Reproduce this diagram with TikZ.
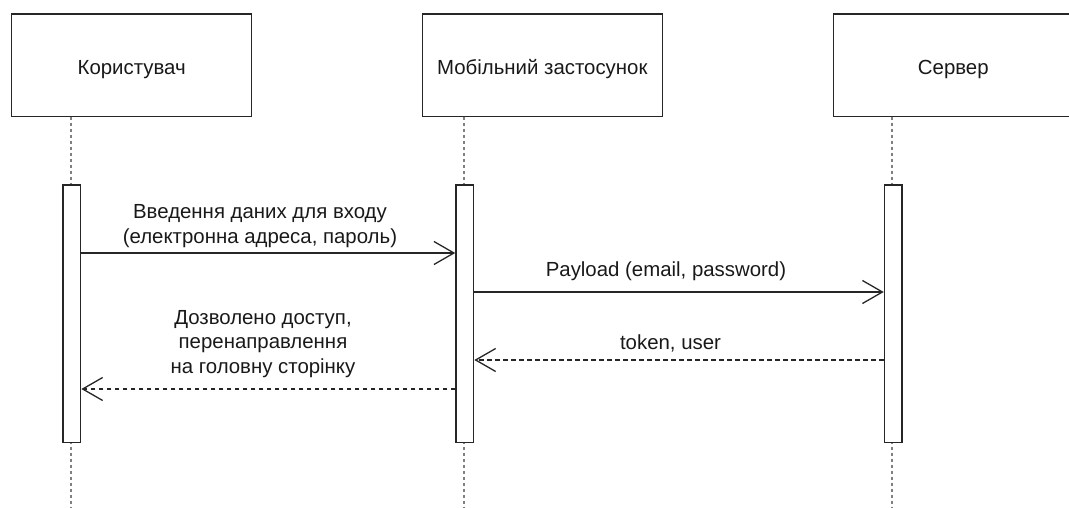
\documentclass[tikz,border=0pt]{standalone}
\usepackage{fontspec}
\setmainfont{Liberation Sans}
\usetikzlibrary{arrows.meta}
\tikzset{
  actor/.style={draw=black!85, line width=1.4pt, fill=white, minimum width=240pt, minimum height=102.7pt, inner sep=0pt, text height=17.5pt, text depth=0pt, font=\fontsize{20.4}{24.5}\selectfont, text=black!90},
  actbar/.style={draw=black!85, line width=1.4pt, fill=white, minimum width=17.7pt, minimum height=257.7pt, inner sep=0pt},
  lifeline/.style={draw=black!50, line width=2pt, dash pattern=on 3pt off 3pt},
  msg/.style={draw=black!85, line width=1.3pt, -{Straight Barb[length=20pt,width=23pt,line width=1.3pt]}},
  reply/.style={msg, dash pattern=on 4.5pt off 3.5pt},
  lbl/.style={align=center, inner sep=0pt, font=\fontsize{20.4}{24.5}\selectfont, text=black!90}
}
\begin{document}
\begin{tikzpicture}[x=1pt,y=-1pt]
\useasboundingbox (0,0) rectangle (1069,508);
\clip (0,0) rectangle (1069,508);
% actors
\node[actor] (user) at (131.7,65.3) {Користувач};
\node[actor] (app)  at (542.3,65.3) {Мобільний застосунок};
\node[actor] (srv)  at (953.3,65.3) {Сервер};
% lifeline ends
\coordinate (u0) at (70.7,116.7);
\coordinate (a0) at (464.3,116.7);
\coordinate (s0) at (892.3,116.7);
\coordinate (uend) at (70.7,510);
\coordinate (aend) at (464.3,510);
\coordinate (send) at (892.3,510);
\draw[lifeline] (u0) -- (uend);
\draw[lifeline] (a0) -- (aend);
\draw[lifeline] (s0) -- (send);
% activation bars
\node[actbar] (act1) at (71.8,313.8) {};
\node[actbar] (act2) at (464.8,313.8) {};
\node[actbar] (act3) at (893.3,313.8) {};
% message levels
\coordinate (m1) at (0,253);
\coordinate (m2) at (0,292);
\coordinate (m3) at (0,360);
\coordinate (m4) at (0,389);
\draw[msg]   (act1.east |- m1) -- (act2.west |- m1);
\draw[msg]   (act2.east |- m2) -- (act3.west |- m2);
\draw[reply] (act3.west |- m3) -- (act2.east |- m3);
\draw[reply] (act2.west |- m4) -- (act1.east |- m4);
% labels
\node[lbl] (l1) at (260,226) {Введення даних для входу\\(електронна адреса, пароль)};
\node[lbl] (l2) at (666,271) {Payload (email, password)};
\node[lbl] (l3) at (670.5,343) {token, user};
\node[lbl] (l4) at (263,344) {Дозволено доступ,\\перенаправлення\\на головну сторінку};
\end{tikzpicture}
\end{document}
